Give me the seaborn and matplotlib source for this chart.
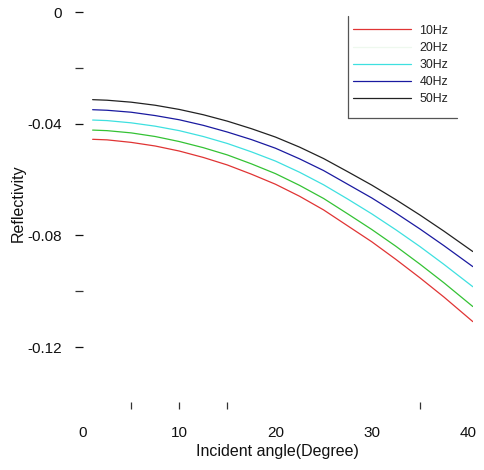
import numpy as np
import pandas as pd
import matplotlib
matplotlib.use("Agg")
import matplotlib.pyplot as plt
from matplotlib.lines import Line2D
import seaborn as sns

angles = [1, 2.5, 5, 7.5, 10, 12.5, 15, 17.5, 20, 22.5, 25, 27.5, 30, 32.5, 35, 37.5, 40.5]
r10 = [-0.0456, -0.0458, -0.0467, -0.0480, -0.0498, -0.0521, -0.0548, -0.0581, -0.0617,
       -0.0660, -0.0709, -0.0766, -0.0823, -0.0886, -0.0952, -0.1021, -0.1109]
r20 = [-0.0423, -0.0425, -0.0433, -0.0446, -0.0464, -0.0486, -0.0512, -0.0544, -0.0579,
       -0.0621, -0.0668, -0.0723, -0.0779, -0.0839, -0.0903, -0.0970, -0.1055]
r30 = [-0.0387, -0.0389, -0.0397, -0.0409, -0.0425, -0.0446, -0.0471, -0.0501, -0.0534,
       -0.0574, -0.0619, -0.0670, -0.0723, -0.0780, -0.0840, -0.0904, -0.0984]
r40 = [-0.0350, -0.0352, -0.0359, -0.0371, -0.0386, -0.0406, -0.0430, -0.0457, -0.0488,
       -0.0526, -0.0568, -0.0617, -0.0666, -0.0720, -0.0777, -0.0837, -0.0912]
r50 = [-0.0314, -0.0316, -0.0323, -0.0334, -0.0349, -0.0368, -0.0391, -0.0418, -0.0448,
       -0.0484, -0.0525, -0.0572, -0.0620, -0.0672, -0.0727, -0.0785, -0.0858]
freqs = ["10Hz", "20Hz", "30Hz", "40Hz", "50Hz"]
colors = ["#e03434", "#34c234", "#3ee0e0", "#1a1aa0", "#222222"]

xticks = [0, 10, 20, 30, 40]
xminor = [5, 10, 15, 35]
yticks = [0, -0.04, -0.08, -0.12]
ylabels = ["0", "-0.04", "-0.08", "-0.12"]
yminor = [-0.02, -0.10]

rows = []
for f, vals in zip(freqs, [r10, r20, r30, r40, r50]):
    for a, v in zip(angles, vals):
        rows.append({"angle": a, "refl": v, "freq": f})
df = pd.DataFrame(rows)

sns.set_theme(style="white")
plt.rcParams['font.family'] = ['Liberation Sans', 'DejaVu Sans']
plt.rcParams['axes.unicode_minus'] = False

W, H = 484, 470
fig = plt.figure(figsize=(W / 100, H / 100), dpi=100)
ax = fig.add_axes([83 / W, 1 - 402 / H, (472.8 - 83) / W, 390 / H])

sns.lineplot(data=df, x="angle", y="refl", hue="freq", palette=colors,
             linewidth=0.9, ax=ax, legend=False)

ax.set_xlim(0, 40.5)
ax.set_ylim(-0.1397, 0)
for s in ax.spines.values():
    s.set_visible(False)

ax.xaxis.remove_overlapping_locs = False
ax.set_xticks(xticks)
ax.set_xticklabels([str(t) for t in xticks])
ax.set_xticks(xminor, minor=True)
ax.tick_params(axis="x", which="major", length=0, pad=17, labelsize=11, colors="#111111")
ax.tick_params(axis="x", which="minor", bottom=True, length=5, width=0.9, color="#333333", direction="out")

ax.set_yticks(yticks)
ax.set_yticklabels(ylabels)
ax.set_yticks(yminor, minor=True)
ax.tick_params(axis="y", which="major", left=True, length=6, width=0.9, pad=9,
               labelsize=11, colors="#111111", direction="out")
ax.tick_params(axis="y", which="minor", left=True, length=6, width=0.9, color="#333333", direction="out")

ax.set_xlabel("Incident angle(Degree)", fontsize=11.5, color="#111111")
ax.xaxis.set_label_coords(0.5, -(444 - 402) / 390)
ax.set_ylabel("Reflectivity", fontsize=11.5, color="#111111")
ax.yaxis.set_label_coords(-(83 - 26) / 389.8, (402 - 203) / 390)

leg_colors = [colors[0], "#eef8ee", colors[2], colors[3], colors[4]]
handles = [Line2D([0], [0], color=c, lw=0.9) for c in leg_colors]
leg = ax.legend(handles, freqs, loc="upper left",
                bbox_to_anchor=((349 - 83) / 389.8, 1 - (21 - 12) / 390),
                frameon=False, fontsize=8.9, handlelength=4.7, handletextpad=0.7,
                labelspacing=0.42, borderpad=0.3, borderaxespad=0)
for t in leg.get_texts():
    t.set_color("#222222")

fig.add_artist(Line2D([348 / W, 348 / W], [1 - 16 / H, 1 - 118 / H], color="#555555", lw=0.9))
fig.add_artist(Line2D([348 / W, 457 / W], [1 - 118 / H, 1 - 118 / H], color="#555555", lw=0.9))

fig.savefig("out.png", dpi=100)
